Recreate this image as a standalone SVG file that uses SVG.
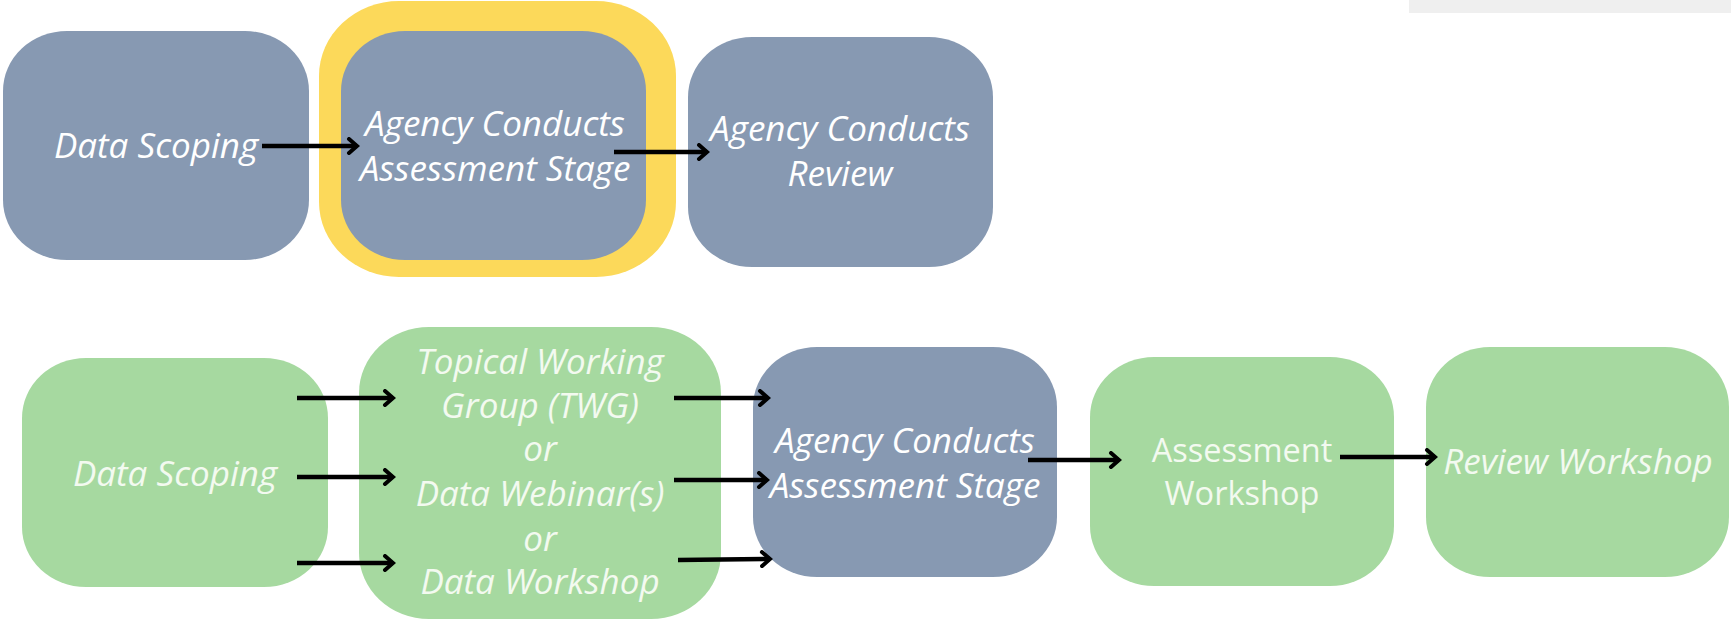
<svg xmlns="http://www.w3.org/2000/svg" width="1731" height="621" viewBox="0 0 1731 621">
<defs>
<style>
.blue{fill:#8799b2}
.green{fill:#a6d9a0}
.t{font-family:"Open Sans","Liberation Sans",sans-serif;font-size:35px;font-style:italic;fill:#ffffff;text-anchor:middle}
.tg{font-family:"Open Sans","Liberation Sans",sans-serif;font-size:35px;font-style:italic;fill:#f3faf0;text-anchor:middle}
.tn{font-style:normal;font-size:32.5px}
.c{stroke:#000;stroke-width:4.5;fill:none;marker-end:url(#ah)}
</style>
<marker id="ah" viewBox="0 0 14 18" refX="11" refY="9" markerWidth="14" markerHeight="18" markerUnits="userSpaceOnUse" orient="auto">
<path d="M3,2 L11,9 L3,16" fill="none" stroke="#000" stroke-width="4" stroke-linecap="round" stroke-linejoin="miter"/>
</marker>
</defs>
<rect x="1409" y="0" width="322" height="13" fill="#efefef"/>
<g id="n1"><rect class="blue" x="3" y="31" width="306" height="229" rx="64" ry="60"/><text class="t" x="156" y="158">Data Scoping</text></g>
<g id="n2"><rect x="319" y="1" width="357" height="276" rx="80" ry="75" fill="#fcd95a"/><rect class="blue" x="341" y="31" width="305" height="229" rx="64" ry="60"/><text class="t" x="495" y="136">Agency Conducts</text><text class="t" x="495" y="181">Assessment Stage</text></g>
<g id="n3"><rect class="blue" x="688" y="37" width="305" height="230" rx="64" ry="60"/><text class="t" x="840" y="141">Agency Conducts</text><text class="t" x="840" y="186">Review</text></g>
<g id="n4"><rect class="green" x="22" y="358" width="306" height="229" rx="64" ry="60"/><text class="tg" x="175" y="486">Data Scoping</text></g>
<g id="n5"><rect class="green" x="359" y="327" width="362" height="292" rx="70" ry="66"/><text class="tg" x="540" y="374">Topical Working</text><text class="tg" x="540" y="418">Group (TWG)</text><text class="tg" x="540" y="461">or</text><text class="tg" x="540" y="506">Data Webinar(s)</text><text class="tg" x="540" y="551">or</text><text class="tg" x="540" y="594">Data Workshop</text></g>
<g id="n6"><rect class="blue" x="753" y="347" width="304" height="230" rx="64" ry="60"/><text class="t" x="905" y="453">Agency Conducts</text><text class="t" x="905" y="498">Assessment Stage</text></g>
<g id="n7"><rect class="green" x="1090" y="357" width="304" height="229" rx="64" ry="60"/><text class="tg tn" x="1242" y="462">Assessment</text><text class="tg tn" x="1242" y="505">Workshop</text></g>
<g id="n8"><rect class="green" x="1426" y="347" width="303" height="230" rx="64" ry="60"/><text class="tg" x="1578" y="474">Review Workshop</text></g>
<g id="connectors">
<line class="c" x1="262" y1="146" x2="357" y2="146"/>
<line class="c" x1="614" y1="152" x2="707" y2="152"/>
<line class="c" x1="297" y1="398" x2="393" y2="398"/>
<line class="c" x1="297" y1="477" x2="393" y2="477"/>
<line class="c" x1="297" y1="563" x2="393" y2="563"/>
<line class="c" x1="674" y1="398" x2="768" y2="398"/>
<line class="c" x1="674" y1="480" x2="767" y2="480"/>
<line class="c" x1="678" y1="560" x2="770" y2="559"/>
<line class="c" x1="1028" y1="460" x2="1119" y2="460"/>
<line class="c" x1="1340" y1="457" x2="1435" y2="457"/>
</g>
</svg>
